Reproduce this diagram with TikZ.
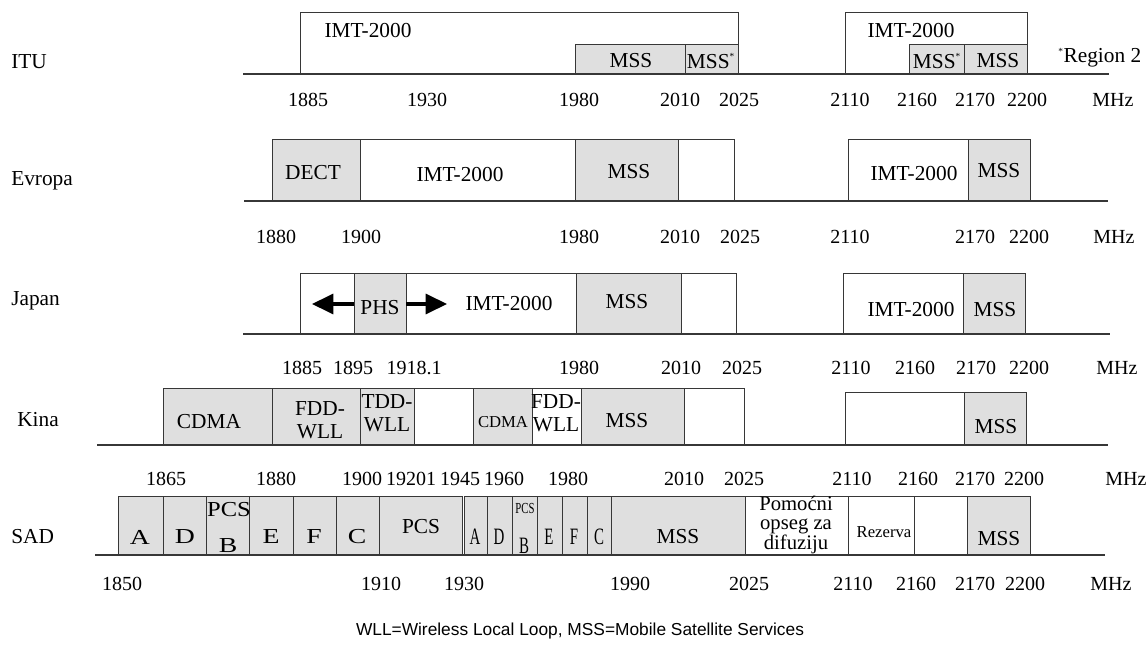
\documentclass[tikz,border=0pt]{standalone}
\usepackage{fontspec}
\setmainfont{Liberation Serif}
\newfontfamily\capfont{Liberation Sans}
\usetikzlibrary{arrows.meta}
\definecolor{bandgray}{RGB}{223,223,223}
\definecolor{edgegray}{RGB}{55,55,55}
\tikzset{
  band/.style={draw=edgegray, line width=0.7pt, fill=white},
  grayband/.style={band, fill=bandgray},
  axisline/.style={draw=edgegray, line width=1pt},
  lbl/.style={inner sep=0pt, font=\fontsize{16}{18}\selectfont},
  freq/.style={inner sep=0pt, font=\fontsize{15}{18}\selectfont},
  twoline/.style={lbl, align=center, font=\fontsize{16}{17}\selectfont},
  smalllbl/.style={inner sep=0pt, font=\fontsize{11.5}{13}\selectfont},
  rowname/.style={lbl, anchor=west},
  fatarrow/.style={line width=2.6pt, -{Triangle[length=16pt,width=15pt]}},
}
\newcommand{\stern}{\textsuperscript{\fontsize{7}{7}\selectfont*}}
\begin{document}
\begin{tikzpicture}[x=0.75pt,y=-0.75pt]
\useasboundingbox (0,0) rectangle (1146,652);

\node[rowname] (itu) at (11,62) {ITU};
\draw[band] (300,12) rectangle (738,74);
\draw[grayband] (575,44) rectangle (685,74);
\draw[grayband] (685,44) rectangle (738,74);
\draw[band] (845,12) rectangle (1027,74);
\draw[grayband] (909,44) rectangle (964,74);
\draw[grayband] (964,44) rectangle (1027,74);
\coordinate (itu-a0) at (243,74);
\coordinate (itu-a1) at (1109,74);
\draw[axisline] (itu-a0) -- (itu-a1);
\node[lbl] (itu-imt1) at (368,31) {IMT-2000};
\node[lbl] (itu-imt2) at (911,31) {IMT-2000};
\node[lbl] (itu-mss1) at (631,61) {MSS};
\node[lbl] (itu-mss2) at (711,61) {MSS\stern};
\node[lbl] (itu-mss3) at (937,61) {MSS\stern};
\node[lbl] (itu-mss4) at (998,61) {MSS};
\node[lbl, anchor=west] (itu-reg) at (1058,58) {\stern Region 2};
\node[freq] (itu-f1) at (308,100) {1885};
\node[freq] (itu-f2) at (427,100) {1930};
\node[freq] (itu-f3) at (579,100) {1980};
\node[freq] (itu-f4) at (680,100) {2010};
\node[freq] (itu-f5) at (739,100) {2025};
\node[freq] (itu-f6) at (850,100) {2110};
\node[freq] (itu-f7) at (917,100) {2160};
\node[freq] (itu-f8) at (975,100) {2170};
\node[freq] (itu-f9) at (1027,100) {2200};
\node[freq] (itu-mhz) at (1113,100) {MHz};

\node[rowname] (evr) at (11,181) {Evropa};
\draw[grayband] (272,139) rectangle (360,201);
\draw[band] (360,139) rectangle (575,201);
\draw[grayband] (575,139) rectangle (678,201);
\draw[band] (678,139) rectangle (734,201);
\draw[band] (848,139) rectangle (968,201);
\draw[grayband] (968,139) rectangle (1030,201);
\coordinate (evr-a0) at (244,201);
\coordinate (evr-a1) at (1108,201);
\draw[axisline] (evr-a0) -- (evr-a1);
\node[lbl] (evr-dect) at (313,173) {DECT};
\node[lbl] (evr-imt1) at (460,175) {IMT-2000};
\node[lbl] (evr-mss1) at (629,172) {MSS};
\node[lbl] (evr-imt2) at (914,174) {IMT-2000};
\node[lbl] (evr-mss2) at (999,171) {MSS};
\node[freq] (evr-f1) at (276,237) {1880};
\node[freq] (evr-f2) at (361,237) {1900};
\node[freq] (evr-f3) at (579,237) {1980};
\node[freq] (evr-f4) at (680,237) {2010};
\node[freq] (evr-f5) at (740,237) {2025};
\node[freq] (evr-f6) at (850,237) {2110};
\node[freq] (evr-f7) at (975,237) {2170};
\node[freq] (evr-f8) at (1029,237) {2200};
\node[freq] (evr-mhz) at (1114,237) {MHz};

\node[rowname] (jap) at (11,301) {Japan};
\draw[band] (300,273) rectangle (354,334);
\draw[grayband] (354,273) rectangle (406,334);
\draw[band] (406,273) rectangle (576,334);
\draw[grayband] (576,273) rectangle (681,334);
\draw[band] (681,273) rectangle (736,334);
\draw[band] (843,273) rectangle (963,334);
\draw[grayband] (963,273) rectangle (1025,334);
\coordinate (jap-a0) at (243,334);
\coordinate (jap-a1) at (1110,334);
\draw[axisline] (jap-a0) -- (jap-a1);
\node[lbl] (jap-phs) at (380,308) {PHS};
\coordinate (jap-phsl) at (354,304);
\coordinate (jap-phsr) at (406,304);
\coordinate (jap-tipl) at (312,304);
\coordinate (jap-tipr) at (447,304);
\draw[fatarrow] (jap-phsl) -- (jap-tipl);
\draw[fatarrow] (jap-phsr) -- (jap-tipr);
\node[lbl] (jap-imt1) at (509,304) {IMT-2000};
\node[lbl] (jap-mss1) at (627,302) {MSS};
\node[lbl] (jap-imt2) at (911,310) {IMT-2000};
\node[lbl] (jap-mss2) at (995,310) {MSS};
\node[freq] (jap-f1) at (302,368) {1885};
\node[freq] (jap-f2) at (353,368) {1895};
\node[freq] (jap-f3) at (414,368) {1918.1};
\node[freq] (jap-f4) at (579,368) {1980};
\node[freq] (jap-f5) at (681,368) {2010};
\node[freq] (jap-f6) at (742,368) {2025};
\node[freq] (jap-f7) at (851,368) {2110};
\node[freq] (jap-f8) at (915,368) {2160};
\node[freq] (jap-f9) at (976,368) {2170};
\node[freq] (jap-f10) at (1029,368) {2200};
\node[freq] (jap-mhz) at (1117,368) {MHz};

\node[rowname] (kin) at (17,420) {Kina};
\draw[grayband] (163,388) rectangle (272,445);
\draw[grayband] (272,388) rectangle (360,445);
\draw[grayband] (360,388) rectangle (414,445);
\draw[band] (414,388) rectangle (473,445);
\draw[grayband] (473,388) rectangle (532,445);
\draw[band] (532,388) rectangle (581,445);
\draw[grayband] (581,388) rectangle (684,445);
\draw[band] (684,388) rectangle (744,445);
\draw[band] (845,392) rectangle (964,445);
\draw[grayband] (964,392) rectangle (1026,445);
\coordinate (kin-a0) at (97,445);
\coordinate (kin-a1) at (1108,445);
\draw[axisline] (kin-a0) -- (kin-a1);
\node[lbl] (kin-cdma1) at (209,422) {CDMA};
\node[twoline] (kin-fdd1) at (320,420) {FDD-\\WLL};
\node[twoline] (kin-tdd) at (387,413) {TDD-\\WLL};
\node[lbl, font=\fontsize{12.5}{14}\selectfont] (kin-cdma2) at (503,422) {CDMA};
\node[twoline] (kin-fdd2) at (556,413) {FDD-\\WLL};
\node[lbl] (kin-mss1) at (627,421) {MSS};
\node[lbl] (kin-mss2) at (996,427) {MSS};
\node[freq] (kin-f1) at (166,479) {1865};
\node[freq] (kin-f2) at (276,479) {1880};
\node[freq] (kin-f3) at (362,479) {1900};
\node[freq] (kin-f4) at (411,479) {19201};
\node[freq] (kin-f5) at (460,479) {1945};
\node[freq] (kin-f6) at (504,479) {1960};
\node[freq] (kin-f7) at (568,479) {1980};
\node[freq] (kin-f8) at (684,479) {2010};
\node[freq] (kin-f9) at (744,479) {2025};
\node[freq] (kin-f10) at (852,479) {2110};
\node[freq] (kin-f11) at (918,479) {2160};
\node[freq] (kin-f12) at (975,479) {2170};
\node[freq] (kin-f13) at (1024,479) {2200};
\node[freq] (kin-mhz) at (1126,479) {MHz};

\node[rowname] (sad) at (11,537) {SAD};
\draw[grayband] (118,496) rectangle (163,555);
\draw[grayband] (163,496) rectangle (206,555);
\draw[grayband] (206,496) rectangle (249,555);
\draw[grayband] (249,496) rectangle (293,555);
\draw[grayband] (293,496) rectangle (336,555);
\draw[grayband] (336,496) rectangle (379,555);
\draw[grayband] (379,496) rectangle (462,555);
\draw[grayband] (464,496) rectangle (487,555);
\draw[grayband] (487,496) rectangle (512,555);
\draw[grayband] (512,496) rectangle (537,555);
\draw[grayband] (537,496) rectangle (562,555);
\draw[grayband] (562,496) rectangle (587,555);
\draw[grayband] (587,496) rectangle (611,555);
\draw[grayband] (611,496) rectangle (745,555);
\draw[band] (745,496) rectangle (848,555);
\draw[band] (848,496) rectangle (914,555);
\draw[band] (914,496) rectangle (967,555);
\draw[grayband] (967,496) rectangle (1030,555);
\coordinate (sad-a0) at (95,555);
\coordinate (sad-a1) at (1105,555);
\draw[axisline] (sad-a0) -- (sad-a1);
\node[lbl] (sad-a) at (140,537) {\scalebox{1.3}[1]{A}};
\node[lbl] (sad-d) at (185,537) {\scalebox{1.3}[1]{D}};
\node[lbl] (sad-pcs1) at (229,510) {\scalebox{1.15}[1]{PCS}};
\node[lbl] (sad-b1) at (228,546) {\scalebox{1.3}[1]{B}};
\node[lbl] (sad-e) at (271,537) {\scalebox{1.3}[1]{E}};
\node[lbl] (sad-f) at (314,537) {\scalebox{1.3}[1]{F}};
\node[lbl] (sad-c) at (357,537) {\scalebox{1.3}[1]{C}};
\node[lbl] (sad-pcs2) at (421,527) {PCS};
\node[lbl] (sad-a2) at (475,537) {\scalebox{0.7}[1.1]{A}};
\node[lbl] (sad-d2) at (499,537) {\scalebox{0.7}[1.1]{D}};
\node[smalllbl] (sad-pcs3) at (525,508) {\scalebox{0.7}[1]{PCS}};
\node[lbl] (sad-b2) at (524,546) {\scalebox{0.7}[1.1]{B}};
\node[lbl] (sad-e2) at (549,537) {\scalebox{0.7}[1.1]{E}};
\node[lbl] (sad-f2) at (574,537) {\scalebox{0.7}[1.1]{F}};
\node[lbl] (sad-c2) at (599,537) {\scalebox{0.7}[1.1]{C}};
\node[lbl] (sad-mss1) at (678,537) {MSS};
\node[lbl, align=center, font=\fontsize{15.5}{14}\selectfont] (sad-pom) at (796,525) {Pomoćni\\opseg za\\difuziju};
\node[smalllbl, font=\fontsize{12.5}{14}\selectfont] (sad-rez) at (884,532) {Rezerva};
\node[lbl] (sad-mss2) at (999,539) {MSS};
\node[freq] (sad-f1) at (122,584) {1850};
\node[freq] (sad-f2) at (381,584) {1910};
\node[freq] (sad-f3) at (464,584) {1930};
\node[freq] (sad-f4) at (630,584) {1990};
\node[freq] (sad-f5) at (749,584) {2025};
\node[freq] (sad-f6) at (853,584) {2110};
\node[freq] (sad-f7) at (916,584) {2160};
\node[freq] (sad-f8) at (975,584) {2170};
\node[freq] (sad-f9) at (1025,584) {2200};
\node[freq] (sad-mhz) at (1111,584) {MHz};

\node[inner sep=0pt, font=\capfont\fontsize{13}{15}\selectfont] (note) at (580,631) {WLL=Wireless Local Loop, MSS=Mobile Satellite Services};
\end{tikzpicture}
\end{document}
